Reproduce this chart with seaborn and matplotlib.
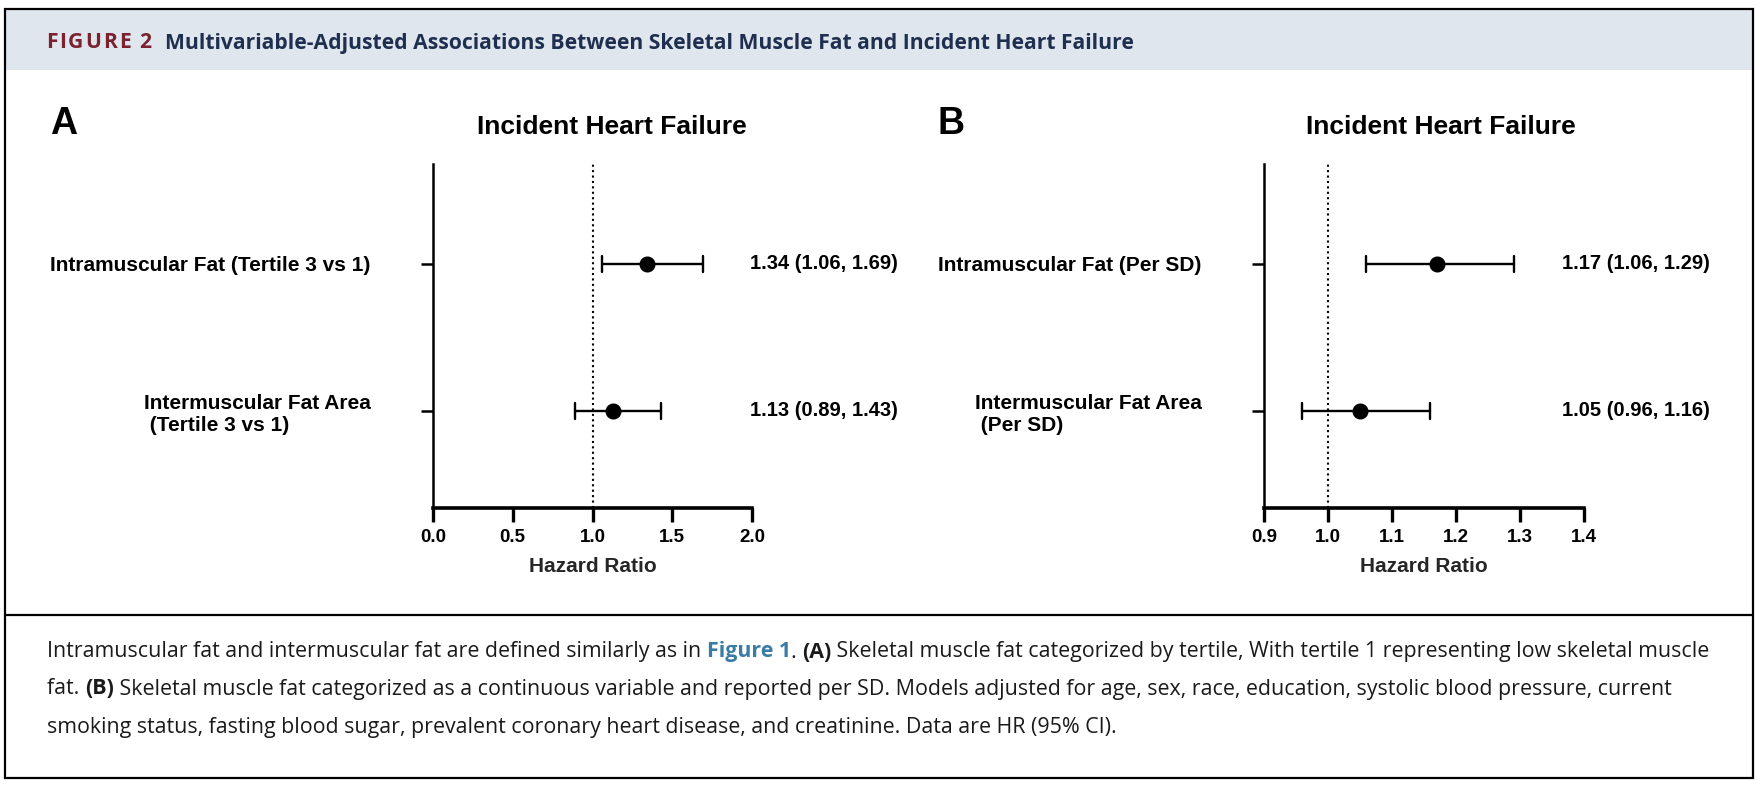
import numpy as np
import pandas as pd
import matplotlib
matplotlib.use('Agg')
import matplotlib.pyplot as plt
import seaborn as sns
from matplotlib.patches import Rectangle
from matplotlib.transforms import blended_transform_factory

sns.set_style('ticks')
narrow = ['Liberation Sans Narrow', 'Liberation Sans', 'DejaVu Sans']
plt.rcParams['font.family'] = narrow
plt.rcParams['font.weight'] = 'bold'
plt.rcParams['axes.labelweight'] = 'bold'
plt.rcParams['axes.edgecolor'] = 'black'
plt.rcParams['xtick.color'] = 'black'
plt.rcParams['ytick.color'] = 'black'
plt.rcParams['text.color'] = 'black'

# panel A: tertile 3 vs 1
labels_a = ['Intramuscular Fat (Tertile 3 vs 1)', 'Intermuscular Fat Area\n (Tertile 3 vs 1)']
hr_a = [1.34, 1.13]
lo_a = [1.06, 0.89]
hi_a = [1.69, 1.43]
ticks_a = [0.0, 0.5, 1.0, 1.5, 2.0]

# panel B: per SD
labels_b = ['Intramuscular Fat (Per SD)', 'Intermuscular Fat Area\n (Per SD)']
hr_b = [1.17, 1.05]
lo_b = [1.06, 0.96]
hi_b = [1.29, 1.16]
ticks_b = [0.9, 1.0, 1.1, 1.2, 1.3, 1.4]

W, H = 1762, 786
fig = plt.figure(figsize=(W / 100, H / 100), dpi=100)

# background frame, header band, caption box
bg = fig.add_axes([0, 0, 1, 1], zorder=0)
bg.set_xlim(0, W)
bg.set_ylim(H, 0)
bg.set_axis_off()
bg.add_patch(Rectangle((5, 9), 1748, 61, facecolor='#dfe6ee', edgecolor='none'))
bg.add_patch(Rectangle((5, 9), 1748, 769, fill=False, edgecolor='black', lw=1.6))
bg.plot([5, 1753], [615, 615], color='black', lw=1.6)


def chain(x, y, pieces, va='center'):
    prev = None
    for text, kw in pieces:
        if prev is None:
            prev = bg.text(x, y, text, ha='left', va=va, **kw)
        else:
            prev = bg.annotate(text, xy=(1, 0), xycoords=prev, ha='left', va='bottom', **kw)
    return prev


# header
hdr = dict(family='Open Sans', weight='bold', fontsize=15.2)
prev = bg.text(46, 43, 'F', ha='left', va='center', color='#7b2230', **hdr)
for ch in 'IGURE 2':
    prev = bg.annotate(ch, xy=(1, 0), xycoords=prev, xytext=(1.3, 0), textcoords='offset points',
                       ha='left', va='bottom', color='#7b2230', **hdr)
bg.annotate('Multivariable-Adjusted Associations Between Skeletal Muscle Fat and Incident Heart Failure',
            xy=(1, 0), xycoords=prev, xytext=(10, 0), textcoords='offset points',
            ha='left', va='bottom', color='#1f2f4f', **hdr)

# caption
cap_n = dict(family='Open Sans', weight='normal', fontsize=15.4, color='#1a1a1a')
cap_b = dict(family='Open Sans', weight='bold', fontsize=15.4, color='#1a1a1a')
cap_l = dict(family='Open Sans', weight='bold', fontsize=15.4, color='#3a7ca5')
chain(47, 652, [
    ('Intramuscular fat and intermuscular fat are defined similarly as in ', cap_n),
    ('Figure 1', cap_l), ('. ', cap_n), ('(A)', cap_b),
    (' Skeletal muscle fat categorized by tertile, With tertile 1 representing low skeletal muscle', cap_n)])
chain(47, 689, [
    ('fat. ', cap_n), ('(B)', cap_b),
    (' Skeletal muscle fat categorized as a continuous variable and reported per SD. Models adjusted for age, '
     'sex, race, education, systolic blood pressure, current', cap_n)])
chain(47, 727, [
    ('smoking status, fasting blood sugar, prevalent coronary heart disease, and creatinine. '
     'Data are HR (95% CI).', cap_n)])


def panel(rect, labels, hr, lo, hi, ticks, letter, letter_x, title_x, ann_x):
    ax = fig.add_axes(rect, zorder=2)
    df = pd.DataFrame({'label': np.repeat(labels, 3),
                       'value': np.ravel(np.column_stack([lo, hr, hi]))})
    ax.axvline(1.0, color='black', lw=1.5, ls=(0, (1, 1.6)), zorder=0)
    sns.pointplot(data=df, x='value', y='label', orient='h', estimator='median',
                  errorbar=lambda v: (v.min(), v.max()), color='black', markers='o',
                  linestyle='none', markersize=9.5, capsize=0.11,
                  err_kws={'linewidth': 1.7}, ax=ax)
    ax.set_xlim(ticks[0], ticks[-1])
    ax.set_ylim(1.66, -0.68)
    ax.set_xticks(ticks)
    ax.set_xticklabels([f'{t:.1f}' for t in ticks])
    ax.set_yticks(range(len(labels)))
    ax.set_yticklabels(labels, multialignment='left')
    sns.despine(ax=ax)
    ax.spines['left'].set_linewidth(1.8)
    ax.spines['bottom'].set_linewidth(2.6)
    ax.tick_params(axis='x', length=10, width=2.4, labelsize=13.5, pad=5)
    ax.tick_params(axis='y', length=9, width=1.8, labelsize=15, pad=36)
    ax.set_ylabel('')
    ax.set_xlabel('Hazard Ratio', fontsize=15, fontweight='bold')
    ax.xaxis.set_label_coords(0.5, -0.1715)
    ax.xaxis.label.set_va('center')
    ax.text(title_x, 1.1076, 'Incident Heart Failure', transform=ax.transAxes,
            ha='center', va='center', fontsize=19)
    bg.text(letter_x, 124, letter, ha='left', va='center', family='Liberation Sans',
            weight='bold', fontsize=27)
    tr = blended_transform_factory(ax.transAxes, ax.transData)
    for i in range(len(labels)):
        ax.text(ann_x, i, f'{hr[i]:.2f} ({lo[i]:.2f}, {hi[i]:.2f})', transform=tr,
                ha='left', va='center', fontsize=14.5)
    return ax


panel([433 / W, 1 - 508 / H, 319 / W, 344 / H], labels_a, hr_a, lo_a, hi_a, ticks_a,
      'A', 50, 0.561, 0.994)
panel([1264 / W, 1 - 508 / H, 320 / W, 344 / H], labels_b, hr_b, lo_b, hi_b, ticks_b,
      'B', 937, 0.553, 0.931)

fig.savefig('out.png', dpi=100)
